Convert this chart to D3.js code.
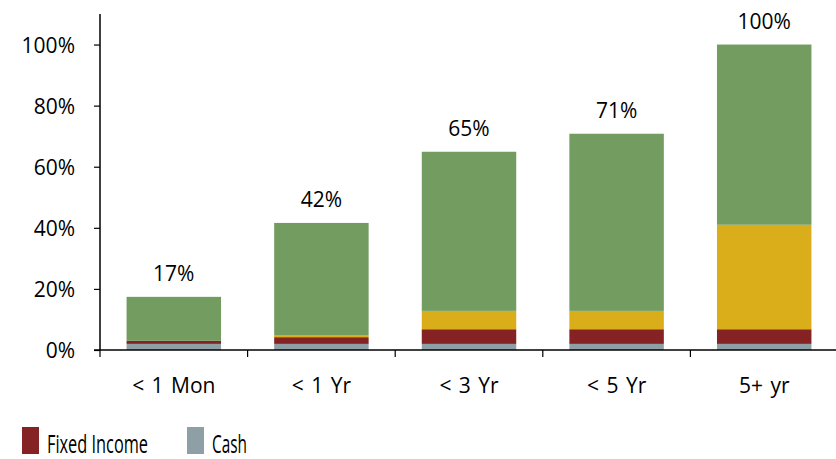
<!DOCTYPE html>
<html>
<head>
<meta charset="utf-8">
<script src="https://cdn.jsdelivr.net/npm/d3@7"></script>
<style>
  body { margin: 0; background: #fff; }
  text { font-family: "Open Sans", "Noto Sans", sans-serif; fill: #000; }
</style>
</head>
<body>
<div id="chart"></div>
<script>
// categories and series (percent of portfolio)
var categories = ["< 1 Mon", "< 1 Yr", "< 3 Yr", "< 5 Yr", "5+ yr"];
var cash        = [2.0, 2.0, 2.0, 2.0, 2.0];
var fixedIncome = [1.0, 2.2, 4.8, 4.8, 4.8];
var alternative = [0.0, 0.7, 6.0, 6.0, 34.2];
var equity      = [14.4, 36.7, 52.1, 58.0, 59.0];
var totalLabels = ["17%", "42%", "65%", "71%", "100%"];
var yTicks = [0, 20, 40, 60, 80, 100];

var seriesKeys = ["cash", "fixedIncome", "alternative", "equity"];
var colors = { cash: "#8f9fa6", fixedIncome: "#842224", alternative: "#daae1a", equity: "#739c61" };

var width = 836, height = 459;

var svg = d3.select("#chart")
  .append("svg")
    .attr("width", width)
    .attr("height", height);

// build table for the stack
var table = categories.map(function (c, i) {
  return { cat: c, cash: cash[i], fixedIncome: fixedIncome[i], alternative: alternative[i], equity: equity[i], label: totalLabels[i] };
});

var x = d3.scaleBand()
  .domain(categories)
  .range([100, 838])
  .paddingInner(0.36)
  .paddingOuter(0.18);

var y = d3.scaleLinear()
  .domain([0, 110])
  .range([350, 14]);

var stacked = d3.stack().keys(seriesKeys)(table);

// bars
svg.append("g")
  .selectAll("g")
  .data(stacked)
  .join("g")
    .attr("fill", function (d) { return colors[d.key]; })
  .selectAll("rect")
  .data(function (d) { return d; })
  .join("rect")
    .attr("x", function (d) { return x(d.data.cat); })
    .attr("width", x.bandwidth())
    .attr("y", function (d) { return y(d[1]); })
    .attr("height", function (d) { return y(d[0]) - y(d[1]); });

// total labels above the bars
svg.append("g")
  .selectAll("text")
  .data(table)
  .join("text")
    .attr("x", function (d) { return x(d.cat) + x.bandwidth() / 2; })
    .attr("y", function (d) { return y(d.cash + d.fixedIncome + d.alternative + d.equity) - 16; })
    .attr("text-anchor", "middle")
    .style("font-size", "21px")
    .text(function (d) { return d.label; });

// Y axis
var yAxis = svg.append("g")
  .attr("transform", "translate(100,0)")
  .call(d3.axisLeft(y)
    .tickValues(yTicks)
    .tickSize(6)
    .tickPadding(19)
    .tickFormat(function (d) { return d + "%"; }));
yAxis.select(".domain").attr("stroke", "#000").attr("stroke-width", 1.5).attr("d", "M0,350V14");
yAxis.selectAll(".tick line").attr("stroke", "#000").attr("stroke-width", 1.2);
yAxis.selectAll(".tick text")
  .style("font-size", "21px")
  .style("font-family", "'Open Sans', sans-serif")
  .attr("dy", "0.36em");

// X axis with ticks at category boundaries
var xAxis = svg.append("g");
xAxis.append("line")
  .attr("x1", 94).attr("x2", 838)
  .attr("y1", 350).attr("y2", 350)
  .attr("stroke", "#000").attr("stroke-width", 1.5);
xAxis.selectAll("line.b")
  .data(d3.range(categories.length + 1))
  .join("line")
    .attr("class", "b")
    .attr("x1", function (i) { return 100 + i * (738 / categories.length); })
    .attr("x2", function (i) { return 100 + i * (738 / categories.length); })
    .attr("y1", 350).attr("y2", 357)
    .attr("stroke", "#000").attr("stroke-width", 1.2);
xAxis.selectAll("text")
  .data(categories)
  .join("text")
    .attr("x", function (d) { return x(d) + x.bandwidth() / 2; })
    .attr("y", 393)
    .attr("text-anchor", "middle")
    .style("font-size", "21px")
    .style("word-spacing", "2px")
    .text(function (d) { return d; });

// legend (only the visible items)
var legendItems = [
  { name: "Fixed Income", key: "fixedIncome", x: 22, len: 101 },
  { name: "Cash", key: "cash", x: 187, len: 35 }
];
var legend = svg.append("g")
  .selectAll("g")
  .data(legendItems)
  .join("g")
    .attr("transform", function (d) { return "translate(" + d.x + ",427)"; });
legend.append("rect")
  .attr("width", 17).attr("height", 27)
  .attr("fill", function (d) { return colors[d.key]; });
legend.append("text")
  .attr("x", 25).attr("y", 26)
  .style("font-size", "25px")
  .attr("textLength", function (d) { return d.len; })
  .attr("lengthAdjust", "spacingAndGlyphs")
  .text(function (d) { return d.name; });
</script>
</body>
</html>
